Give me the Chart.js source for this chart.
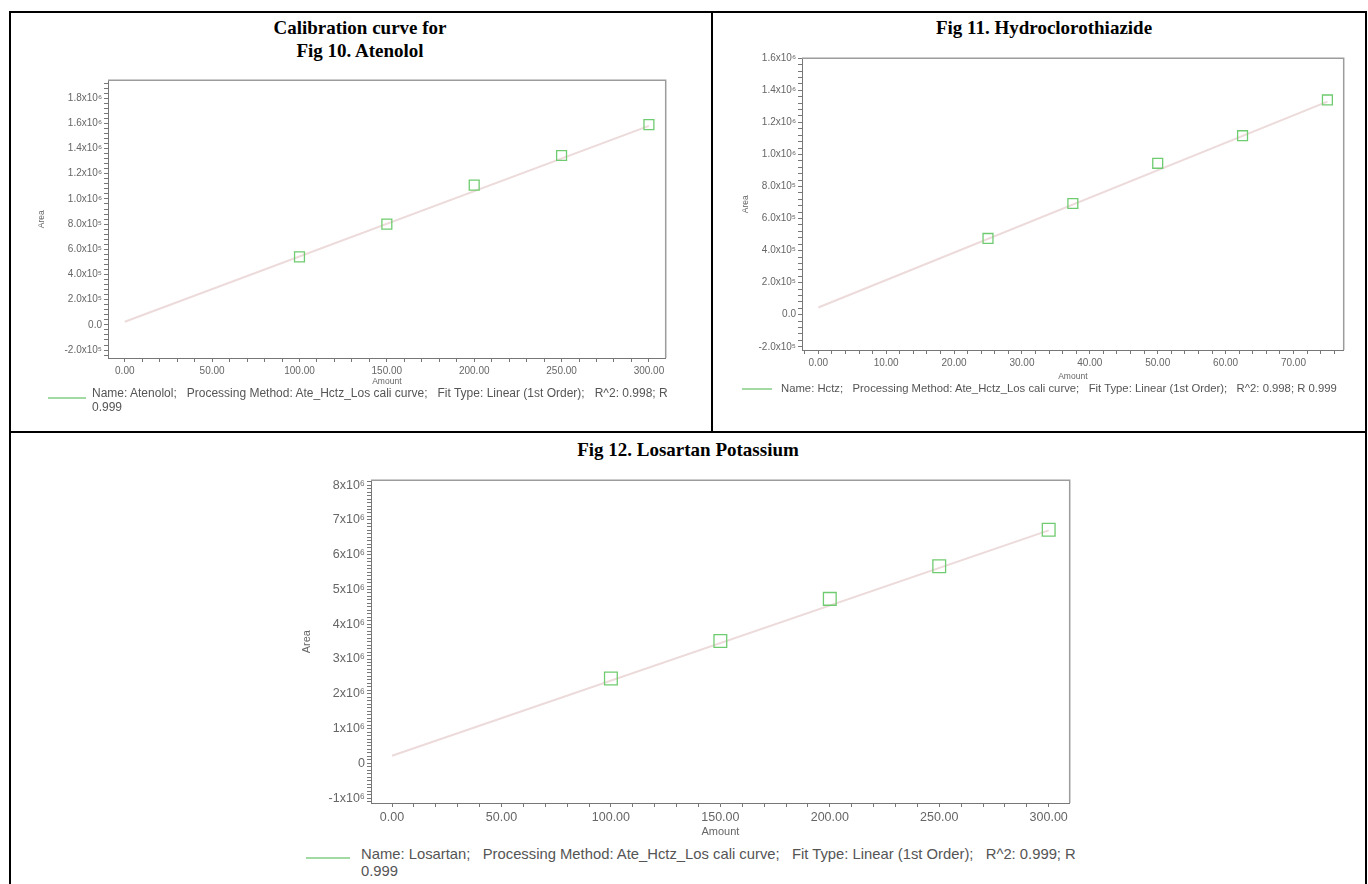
<!DOCTYPE html>
<html>
<head>
<meta charset="utf-8">
<script src="https://cdn.jsdelivr.net/npm/chart.js@4.4.1/dist/chart.umd.min.js"></script>
<style>
  body { margin: 0; width: 1368px; height: 884px; overflow: hidden; background: #fff; position: relative; font-family: "Liberation Sans", Arial, sans-serif; }
  .rule { position: absolute; background: #000; }
  .title { position: absolute; transform: translate(-50%, -50%); font-family: "Liberation Serif", "Times New Roman", serif; font-weight: bold; font-size: 19px; color: #000; white-space: nowrap; }
  .legend { position: absolute; color: #555; white-space: pre; }
  .swatch { position: absolute; height: 2px; background: #a3d9a3; }
  canvas { position: absolute; }
</style>
</head>
<body>
<!-- table rules -->
<div class="rule" style="left:9px; top:11px; width:2px; height:880px;"></div>
<div class="rule" style="left:9px; top:11px; width:1358px; height:2px;"></div>
<div class="rule" style="left:1365px; top:11px; width:2px; height:880px;"></div>
<div class="rule" style="left:711px; top:11px; width:2px; height:422px;"></div>
<div class="rule" style="left:9px; top:431px; width:1358px; height:2px;"></div>

<div class="title" style="left:360px; top:28px;">Calibration curve for</div>
<div class="title" style="left:360px; top:51px;">Fig 10. Atenolol</div>
<div class="title" style="left:1044px; top:28px;">Fig 11. Hydroclorothiazide</div>
<div class="title" style="left:688px; top:450px;">Fig 12. Losartan Potassium</div>

<canvas id="ate" width="641" height="319" style="left:33px; top:72px;"></canvas>
<canvas id="hctz" width="615" height="336" style="left:737px; top:50px;"></canvas>
<canvas id="los" width="784" height="373" style="left:296px; top:470px;"></canvas>

<div class="swatch" style="left:48px; top:397px; width:38px;"></div>
<div class="legend" style="left:92px; top:386px; font-size:12px; line-height:14px;">Name: Atenolol;   Processing Method: Ate_Hctz_Los cali curve;   Fit Type: Linear (1st Order);   R^2: 0.998; R
0.999</div>
<div class="swatch" style="left:742px; top:388px; width:30px;"></div>
<div class="legend" style="left:781px; top:381px; font-size:11.3px; line-height:14px;">Name: Hctz;   Processing Method: Ate_Hctz_Los cali curve;   Fit Type: Linear (1st Order);   R^2: 0.998; R 0.999</div>
<div class="swatch" style="left:306px; top:857px; width:44px;"></div>
<div class="legend" style="left:361px; top:846px; font-size:14.8px; line-height:17px;">Name: Losartan;   Processing Method: Ate_Hctz_Los cali curve;   Fit Type: Linear (1st Order);   R^2: 0.999; R
0.999</div>

<script>
// Fig 10 - Atenolol
const ateAmount = [100, 150, 200, 250, 300];
const ateArea = [540000, 800000, 1110000, 1345000, 1590000];
const ateFitX = [0, 300];
const ateFitY = [25000, 1580000];
const ateXMajor = [0, 50, 100, 150, 200, 250, 300];
const ateYMajor = [-200000, 0, 200000, 400000, 600000, 800000, 1000000, 1200000, 1400000, 1600000, 1800000];

// Fig 11 - Hydroclorothiazide
const hctzAmount = [25, 37.5, 50, 62.5, 75];
const hctzArea = [476000, 694000, 945000, 1117000, 1340000];
const hctzFitX = [0, 75];
const hctzFitY = [45000, 1330000];
const hctzXMajor = [0, 10, 20, 30, 40, 50, 60, 70];
const hctzYMajor = [-200000, 0, 200000, 400000, 600000, 800000, 1000000, 1200000, 1400000, 1600000];

// Fig 12 - Losartan Potassium
const losAmount = [100, 150, 200, 250, 300];
const losArea = [2440000, 3520000, 4730000, 5670000, 6720000];
const losFitX = [0, 300];
const losFitY = [220000, 6700000];
const losXMajor = [0, 50, 100, 150, 200, 250, 300];
const losYMajor = [-1000000, 0, 1000000, 2000000, 3000000, 4000000, 5000000, 6000000, 7000000, 8000000];

Chart.defaults.font.family = '"Liberation Sans", Arial, sans-serif';
Chart.defaults.color = "#666";

function sciLabel(v) {
  if (v === 0) return "0.0";
  if (Math.abs(v) >= 1000000) return (v / 1000000).toFixed(1) + "x10\u2076";
  return (v / 100000).toFixed(1) + "x10\u2075";
}

function intLabel(v) {
  if (v === 0) return "0";
  return (v / 1000000) + "x10\u2076";
}

// minor + major tick marks between the axis limits
function tickList(min, max, step) {
  const out = [];
  for (let v = Math.ceil(min / step) * step; v <= max; v += step) {
    out.push({ value: Math.round(v * 1000) / 1000 });
  }
  return out;
}

// top and right edges of the plot box
const frame = {
  id: "frame",
  beforeDatasetsDraw(chart) {
    const a = chart.chartArea;
    const ctx = chart.ctx;
    ctx.save();
    ctx.strokeStyle = "#9c9c9c";
    ctx.lineWidth = 1.5;
    ctx.beginPath();
    ctx.moveTo(a.left, a.top);
    ctx.lineTo(a.right, a.top);
    ctx.lineTo(a.right, a.bottom);
    ctx.stroke();
    ctx.restore();
  }
};

function makeChart(id, o) {
  const ctx = document.getElementById(id).getContext("2d");
  return new Chart(ctx, {
    type: "scatter",
    data: {
      datasets: [
        {
          data: o.x.map((v, i) => ({ x: v, y: o.y[i] })),
          pointStyle: "rect",
          pointRadius: o.pointRadius,
          pointBorderColor: "#6fcb6f",
          pointBackgroundColor: "rgba(255,255,255,0)",
          pointBorderWidth: 1.3
        },
        {
          data: o.fitX.map((v, i) => ({ x: v, y: o.fitY[i] })),
          showLine: true,
          borderColor: "#eddada",
          borderWidth: 2,
          pointRadius: 0
        }
      ]
    },
    options: {
      responsive: false,
      animation: false,
      layout: { padding: { top: o.padTop, right: o.padRight, left: 0, bottom: 0 } },
      plugins: { legend: { display: false }, tooltip: { enabled: false } },
      scales: {
        x: {
          type: "linear",
          min: o.xMin,
          max: o.xMax,
          afterBuildTicks: function (s) { s.ticks = tickList(o.xMin, o.xMax, o.xStep); },
          afterFit: function (s) { s.height = o.xAxisH; },
          border: { color: "#777", width: 1 },
          grid: { drawOnChartArea: false, tickLength: 4, color: "#777" },
          ticks: {
            autoSkip: false,
            maxRotation: 0,
            padding: 3,
            color: "#666",
            font: { size: o.tickSize },
            callback: function (v) { return o.xMajor.includes(v) ? v.toFixed(2) : ""; }
          },
          title: { display: true, text: "Amount", color: "#666", font: { size: o.axisSize }, padding: { top: 2, bottom: 4 } }
        },
        y: {
          type: "linear",
          min: o.yMin,
          max: o.yMax,
          afterBuildTicks: function (s) { s.ticks = tickList(o.yMin, o.yMax, o.yStep); },
          afterFit: function (s) { s.width = o.yAxisW; },
          border: { color: "#777", width: 1 },
          grid: { drawOnChartArea: false, tickLength: 4, color: "#777" },
          ticks: {
            autoSkip: false,
            padding: 2,
            color: "#666",
            font: { size: o.tickSize },
            callback: function (v) { return o.yMajor.includes(v) ? o.yFmt(v) : ""; }
          },
          title: { display: true, text: "Area", color: "#666", font: { size: o.axisSize }, padding: { top: 4, bottom: 2 } }
        }
      }
    },
    plugins: [frame]
  });
}

makeChart("ate", {
  x: ateAmount, y: ateArea, fitX: ateFitX, fitY: ateFitY,
  xMin: -9.6, xMax: 309.6, xStep: 10, xMajor: ateXMajor,
  yMin: -263000, yMax: 1942000, yStep: 40000, yMajor: ateYMajor, yFmt: sciLabel,
  padTop: 7, padRight: 7, xAxisH: 33, yAxisW: 75,
  tickSize: 10, axisSize: 8.5, pointRadius: 7
});

makeChart("hctz", {
  x: hctzAmount, y: hctzArea, fitX: hctzFitX, fitY: hctzFitY,
  xMin: -2.4, xMax: 77.4, xStep: 2, xMajor: hctzXMajor,
  yMin: -220000, yMax: 1600000, yStep: 40000, yMajor: hctzYMajor, yFmt: sciLabel,
  padTop: 7, padRight: 8, xAxisH: 36, yAxisW: 65,
  tickSize: 10, axisSize: 8.5, pointRadius: 7
});

makeChart("los", {
  x: losAmount, y: losArea, fitX: losFitX, fitY: losFitY,
  xMin: -9.6, xMax: 309.6, xStep: 10, xMajor: losXMajor,
  yMin: -1140000, yMax: 8140000, yStep: 100000, yMajor: losYMajor, yFmt: intLabel,
  padTop: 8, padRight: 8, xAxisH: 40, yAxisW: 75,
  tickSize: 12.5, axisSize: 11, pointRadius: 9
});
</script>
</body>
</html>
